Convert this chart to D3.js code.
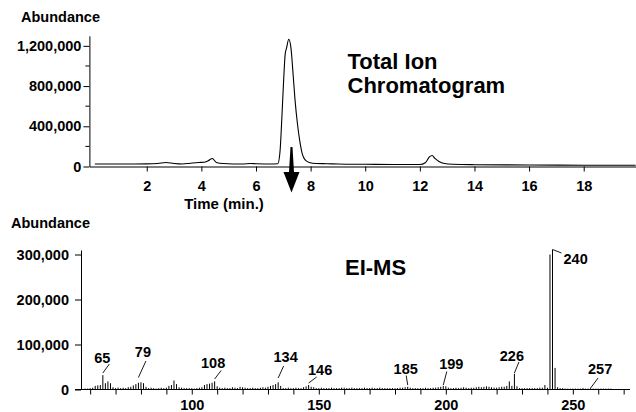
<!DOCTYPE html>
<html><head><meta charset="utf-8">
<script src="https://cdn.jsdelivr.net/npm/d3@7"></script>
<style>
html,body{margin:0;padding:0;background:#fff;}
svg{display:block;}
text{font-family:"Liberation Sans",Arial,sans-serif;font-weight:bold;fill:#000;}
</style></head>
<body><svg id="c" width="636" height="412"></svg>
<script>
// ---- Total ion chromatogram (time in min, abundance) ----
const ticTime = [0.1,1.0,2.0,2.4,2.7,3.0,3.3,3.6,3.9,4.1,4.25,4.4,4.55,4.8,5.5,5.8,6.0,6.5,6.8,6.88,6.95,7.02,7.07,7.12,7.2,7.28,7.35,7.43,7.52,7.6,7.7,7.8,7.95,8.2,8.6,9.0,10.0,11.0,12.0,12.2,12.35,12.45,12.55,12.7,12.9,13.2,14.0,16.0,18.0,19.9];
const ticAbund = [25000,25000,26000,30000,40000,30000,25000,33000,40000,42000,58000,80000,40000,30000,25000,30000,28000,25000,28000,150000,500000,900000,1120000,1180000,1265000,1180000,950000,660000,420000,260000,120000,65000,40000,30000,28000,25000,22000,20000,20000,38000,95000,110000,80000,50000,30000,22000,18000,15000,13000,12000];
const timeTicks = [2,4,6,8,10,12,14,16,18];
const abundTicksTop = [0,400000,800000,1200000];
const abundMinorTop = [200000,600000,1000000];
const arrowTime = 7.3;

// ---- EI mass spectrum (m/z starting at 57, intensities in thousands) ----
const mzStart = 57;
const msIntensityK = [
  1,2,2,
  3,4,8,9,10,32,14,18,14,5,
  3,4,3,4,3,5,6,9,12,15,
  16,14,6,3,4,3,2,3,4,3,
  4,8,10,20,12,5,4,3,3,3,
  3,2,3,4,5,10,12,13,15,18,
  7,4,3,4,3,3,5,4,3,6,
  5,4,3,3,4,3,3,4,5,4,
  6,8,10,12,16,8,3,3,4,3,
  3,4,3,3,5,7,10,6,5,3,
  3,4,3,3,3,4,3,3,3,4,
  4,3,3,4,3,3,3,3,4,3,
  3,4,3,3,4,3,3,3,3,3,
  3,3,4,4,5,6,4,3,3,3,
  3,3,4,3,3,4,4,5,6,8,
  7,4,3,3,4,3,4,5,4,3,
  4,4,5,6,5,6,7,6,5,4,
  4,5,6,6,8,18,8,35,7,3,
  3,3,3,3,3,3,3,4,4,10,
  4,300,311,48,5,3,3,2,2,2,
  2,2,2,2,3,2,2,3,2,2,
  2,2,2,2,2,2,1,1,1,1,1,1,1
];
const mzTicks = [60,70,80,90,100,110,120,130,140,150,160,170,180,190,200,210,220,230,240,250,260,270];
const mzLabelTicks = [100,150,200,250];
const abundTicksBot = [0,100000,200000,300000];
// peak labels: text and the m/z of the peak they point to
const peakLabels = ["65","79","108","134","146","185","199","226","240","257"];
const peakLabelMz = [65,79,109,134,146,185,199,227,242,257];

// ---- label layout (pixel offsets from peak x; pixel y) ----
const labelLayout = [
  {ly1:373,dx2:6.5,ly2:364,tdx:-0.5,ty:362.5,anchor:"middle"},
  {ly1:377.5,dx2:7.5,ly2:361,tdx:4.5,ty:356.5,anchor:"middle"},
  {ly1:379,dx2:6.5,ly2:370.5,tdx:-1.5,ty:367.5,anchor:"middle"},
  {ly1:378,dx2:5.5,ly2:366,tdx:7.5,ty:361.5,anchor:"middle"},
  {ly1:383,dx2:8,ly2:377,tdx:11.5,ty:375,anchor:"middle"},
  {ly1:385,dx2:-1.5,ly2:375.5,tdx:-2,ty:374.3,anchor:"middle"},
  {ly1:385,dx2:3.5,ly2:371.5,tdx:8,ty:369.3,anchor:"middle"},
  {ly1:373,dx2:4.5,ly2:362,tdx:-2.5,ty:360.7,anchor:"middle"},
  {ly1:249.5,dx2:9,ly2:253,tdx:11,ty:263.5,anchor:"start"},
  {ly1:388,dx2:7.5,ly2:378,tdx:9.5,ty:374.3,anchor:"middle"}
];

const svg = d3.select("#c");
const FONT = "Liberation Sans, Arial, sans-serif";

// ================= TOP PANEL =================
const xT = d3.scaleLinear().domain([-0.1,19.9]).range([89.4,635.6]);
const yT = d3.scaleLinear().domain([0,1300000]).range([166.5,35.8]);
const fmt = d3.format(",");

const topG = svg.append("g");
const xAxT = d3.axisBottom(xT).tickValues(timeTicks).tickSize(5).tickSizeOuter(0).tickFormat(d3.format("d"));
const gxT = topG.append("g").attr("transform",`translate(0,${yT(0)})`).call(xAxT);
gxT.select(".domain").attr("stroke-width",1.2);
gxT.selectAll("text").attr("font-size","14.5px").attr("dy",0).attr("y",24.8).style("font-family",FONT).style("font-weight","bold");
const yAxT = d3.axisLeft(yT).tickValues(abundTicksTop).tickSize(6).tickSizeOuter(0).tickFormat(fmt);
const gyT = topG.append("g").attr("transform",`translate(${xT(-0.1)},0)`).call(yAxT);
gyT.selectAll("text").attr("font-size","14.5px").attr("x",-8).style("font-family",FONT).style("font-weight","bold");
topG.append("g").selectAll("line").data(abundMinorTop).join("line")
  .attr("x1",xT(-0.1)-4).attr("x2",xT(-0.1)).attr("y1",d=>yT(d)).attr("y2",d=>yT(d)).attr("stroke","#000");
const lineT = d3.line().x((d,i)=>xT(ticTime[i])).y(d=>yT(d)).curve(d3.curveMonotoneX);
topG.append("path").datum(ticAbund).attr("d",lineT).attr("fill","none").attr("stroke","#000").attr("stroke-width",1.1);
const ax = xT(arrowTime);
topG.append("path").attr("d",`M${ax-1},147 L${ax+1},147 L${ax+2.5},172 L${ax+8},172 L${ax},192.5 L${ax-8},172 L${ax-2.5},172 Z`).attr("fill","#000");
topG.append("text").attr("x",21).attr("y",22).attr("font-size","14.5px").text("Abundance");
topG.append("text").attr("x",224).attr("y",208.5).attr("text-anchor","middle").attr("font-size","15px").text("Time (min.)");
topG.append("text").attr("x",347.5).attr("y",69).attr("font-size","22px").text("Total Ion");
topG.append("text").attr("x",347.5).attr("y",93).attr("font-size","22px").text("Chromatogram");

// ================= BOTTOM PANEL =================
const mz = msIntensityK.map((d,i)=>mzStart+i);
const xB = d3.scaleLinear().domain([56.4,272.5]).range([81,630]);
const yB = d3.scaleLinear().domain([0,310000]).range([389.5,250]);
const botG = svg.append("g");
const xAxB = d3.axisBottom(xB).tickValues(mzTicks).tickSize(5).tickSizeOuter(0)
  .tickFormat(d=>mzLabelTicks.includes(d)?d:"");
const gxB = botG.append("g").attr("transform",`translate(0,${yB(0)})`).call(xAxB);
gxB.select(".domain").attr("stroke-width",1.2).attr("d","M75,0H630");
gxB.selectAll("text").attr("font-size","14.5px").attr("dy",0).attr("y",20.5).style("font-family",FONT).style("font-weight","bold");
const yAxB = d3.axisLeft(yB).tickValues(abundTicksBot).tickSize(6).tickSizeOuter(0).tickFormat(fmt);
const gyB = botG.append("g").attr("transform",`translate(81,0)`).call(yAxB);
gyB.selectAll("text").attr("font-size","14.5px").attr("x",-12).style("font-family",FONT).style("font-weight","bold");
botG.append("g").selectAll("line").data(msIntensityK).join("line")
  .attr("x1",(d,i)=>xB(mz[i])).attr("x2",(d,i)=>xB(mz[i]))
  .attr("y1",yB(0)).attr("y2",d=>yB(d*1000))
  .attr("stroke","#000").attr("stroke-width",1);
const lg = botG.append("g");
peakLabels.forEach((t,i)=>{
  const L = labelLayout[i], px = xB(peakLabelMz[i]);
  lg.append("line").attr("x1",px).attr("y1",L.ly1).attr("x2",px+L.dx2).attr("y2",L.ly2).attr("stroke","#000").attr("stroke-width",0.9);
  lg.append("text").attr("x",px+L.tdx).attr("y",L.ty).attr("text-anchor",L.anchor).attr("font-size","14.5px").text(t);
});
botG.append("text").attr("x",11).attr("y",228).attr("font-size","14.5px").text("Abundance");
botG.append("text").attr("x",345).attr("y",275).attr("font-size","22px").text("EI-MS");
</script></body></html>
